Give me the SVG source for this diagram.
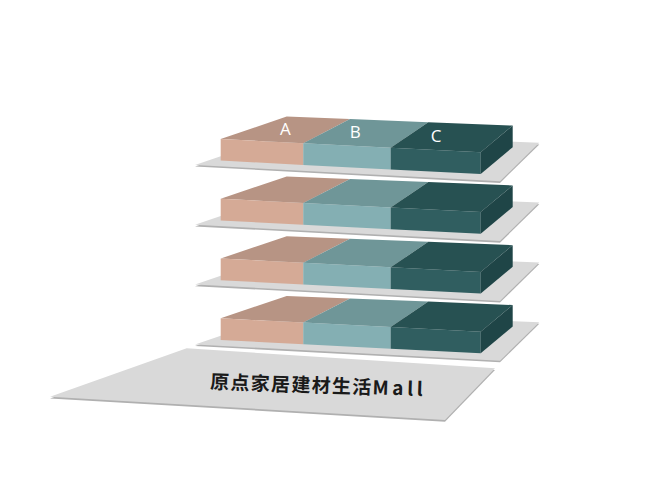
<svg xmlns="http://www.w3.org/2000/svg" xmlns:xlink="http://www.w3.org/1999/xlink" width="650" height="492" viewBox="0 0 650 492">
  <style>
    .plate { fill: #d9d9d9; }
    .plate-edge { fill: #b0b0b0; }
    .a-top { fill: #b79484; }
    .a-front { fill: #d5aa96; }
    .b-top { fill: #6f9698; }
    .b-front { fill: #84afb3; }
    .c-top { fill: #275152; }
    .c-front { fill: #305e60; }
    .c-side { fill: #1f4547; }
    .lbl { font-family: "Open Sans", "Liberation Sans", sans-serif; font-size: 17px; fill: #ffffff; text-anchor: middle; }
    .title { font-family: "Noto Sans CJK SC", "Noto Sans", sans-serif; font-size: 19px; font-weight: bold; fill: #1a1a1a; letter-spacing: 1.3px; }
    .latin { letter-spacing: 3.6px; }
  </style>
  <defs>
    <g id="slab">
      <polygon class="plate-edge" points="195,166.6 500,182.9 539.3,144.4 289,134.6"/>
      <polygon class="plate" points="195,165 500,181.3 539.3,142.8 289,133"/>
      <polygon class="a-top" points="220.7,138.9 303.3,143.2 350,119.1 286.7,116.6"/>
      <polygon class="b-top" points="303.3,143.2 390.7,147.7 428.3,122.2 350,119.1"/>
      <polygon class="c-top" points="390.7,147.7 480.7,152.3 512.7,125.6 428.3,122.2"/>
      <polygon class="a-front" points="220.7,138.9 303.3,143.2 303.3,164.9 220.7,160.6"/>
      <polygon class="b-front" points="303.3,143.2 390.7,147.7 390.7,169.4 303.3,164.9"/>
      <polygon class="c-front" points="390.7,147.7 480.7,152.3 480.7,173.9 390.7,169.4"/>
      <polygon class="c-side" points="480.7,152.3 512.7,125.6 512.7,147.2 480.7,173.9"/>
    </g>
  </defs>

  <g id="base">
    <polygon class="plate-edge" points="186.7,350 495,370 445,421.7 50,398.4"/>
    <polygon class="plate" points="186.7,348.3 495,368.3 445,420 50,396.7"/>
    <text class="title" x="210" y="388.5" transform="rotate(2 210 388.5)">原点家居建材生活<tspan class="latin">Mall</tspan></text>
  </g>

  <g id="tier4">
    <use xlink:href="#slab" href="#slab" transform="translate(0,179.4)"/>
  </g>
  <g id="tier3">
    <use xlink:href="#slab" href="#slab" transform="translate(0,119.6)"/>
  </g>
  <g id="tier2">
    <use xlink:href="#slab" href="#slab" transform="translate(0,59.8)"/>
  </g>
  <g id="tier1">
    <use xlink:href="#slab" href="#slab"/>
    <text class="lbl" x="285.3" y="135">A</text>
    <text class="lbl" x="355.3" y="137.7">B</text>
    <text class="lbl" x="436" y="142.2">C</text>
  </g>

  <g id="connectors"></g>
</svg>
